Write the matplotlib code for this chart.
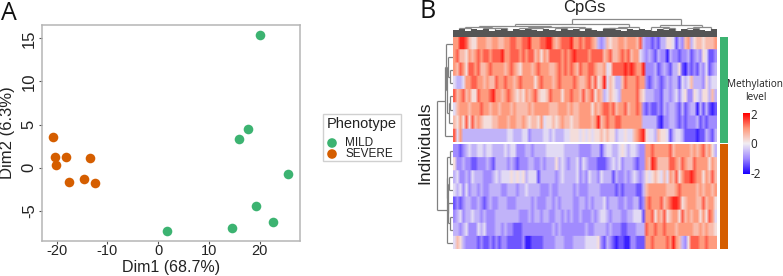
import numpy as np
import matplotlib
matplotlib.use('Agg')
import matplotlib.pyplot as plt
from matplotlib.colors import LinearSegmentedColormap
from matplotlib.patches import Rectangle

plt.rcParams['axes.unicode_minus'] = False

W, H = 783, 276

# panel A
mild_x = [20.0, 17.6, 15.8, 25.6, 19.2, 22.6, 14.5, 1.8]
mild_y = [15.4, 4.44, 3.28, -0.7, -4.48, -6.33, -7.0, -7.37]
severe_x = [-20.8, -20.3, -18.2, -13.4, -20.1, -17.6, -14.6, -12.4]
severe_y = [3.6, 1.2, 1.24, 1.16, 0.3, -1.6, -1.27, -1.74]
x_ticks = [-20, -10, 0, 10, 20]
y_ticks = [-5, 0, 5, 10, 15]

# panel B, one digit per column, 0 = -2 ... 9 = +2
mild_rows = [
    "77998655 77766776 67788778 89777889 97678889 77878876 32365667 76777683 22121335 54132673 56656667",
    "78665767 87887888 97788878 78867576 88887878 98888788 88678667 87867743 23213220 32212231 23254112",
    "76875887 86678777 76787657 77678777 66787878 76877887 66745888 89898779 22231232 13351021 21324123",
    "43347788 77676687 78776787 77757877 76787777 87667868 56946533 68777877 21232123 23314346 33325344",
    "86786755 87778977 67876565 76786556 87775778 77686785 76346543 77777865 33322133 23424522 54355363",
    "46777677 78776776 77767666 67677777 66677767 66777757 67887867 78677872 12112132 33213123 30313101",
    "65758586 76555667 77677667 65665745 56567665 66777767 96787788 77777773 33331022 33212122 23121222",
    "84733333 33333333 33443334 42333344 34333445 55454545 56565534 45446789 54436554 13443111 10113213",
]
severe_rows = [
    "22123433 44344333 34344222 33233334 44444333 33222233 31344334 54344322 77877777 86777776 76786753",
    "52232211 22232133 33232122 23322323 33534323 34243222 11123434 23332122 76986666 88768766 87777576",
    "34223243 33222343 44454545 34441333 33234333 34232433 24333132 23234323 54565464 76857889 87757686",
    "43424233 23223333 22333233 43333222 32233333 23222333 32222212 12222113 67777776 66787777 76767767",
    "12123322 32123223 33222333 33232223 32323333 22332323 33423332 23223312 78777867 89985677 76686775",
    "23423343 32322233 33333322 23233233 22332323 22322232 34432333 22334441 77857685 67758676 77575874",
    "33234222 43422233 23221112 22222222 23232222 22223223 33323222 11222333 87787787 77677777 66767665",
    "46532222 12112121 22111112 00111122 22333222 33334444 52132101 10022111 77877778 79763258 88778777",
]
# individuals tree: (height, left, right), ints are rows
mild_tree = (8, (7, 0, (6, (5, 1, (3, 2, 3)), (4.5, (3, 4, 5), 6))), 7)
severe_tree = (6.5, (6, (3, 0, 1), (5.5, (4, 2, 3), (5, 4, (3.5, 5, 6)))), 7)
# CpG tree: ints are groups of 4 columns
cpg_tree = (18, (13, (11.5, (10, (9, 0, 1), (9.5, 2, (9, 3, 4))),
                      (10.5, (9, 5, (9, 6, 7)), (10, (9, 8, 9), (9.5, 10, 11)))),
                 (10.5, (9.5, (9, 12, 13), 14), 15)),
            (12, (10, 16, (9.5, 17, 18)), (10.5, (9.5, 19, 20), 21)))
band_top = [7, 8, 6, 8, 7, 8, 6, 7, 8, 6, 8, 7, 8, 7, 6, 8, 7, 6, 8, 7, 8, 6,
            8, 7, 6, 8, 8, 7, 6, 8, 7, 8, 7, 6, 8, 7, 8, 6, 8, 7, 8, 7, 6, 8]

GREEN = '#3CB371'
ORANGE = '#D55E00'
TEXT = '#222222'
FONT = 'Liberation Sans'
SOFT = 'Open Sans'

cmap = LinearSegmentedColormap.from_list(
    'meth', [(0, '#1a00ff'), (.25, '#a08aff'), (.5, '#f2eef2'), (.75, '#ff9a7c'), (1, '#ff0000')])


def axpx(x0, y0, x1, y1, **kw):
    # axes from pixel box, y counted from the top
    return fig.add_axes([x0 / W, 1 - y1 / H, (x1 - x0) / W, (y1 - y0) / H], **kw)


def to_values(rows):
    m = np.array([[int(c) for c in r.replace(' ', '')] for r in rows], dtype=float)
    # rows kept crisp, columns get blended by the bilinear draw
    return np.repeat((m - 4.5) * 4 / 9 * 0.88, 15, axis=0)


def tree_segments(node, segs, scale=1.0, off=0.0):
    # returns position and height of a node, collects [(p0,h0),(p1,h1)]
    if not isinstance(node, tuple):
        return node * scale + off, 0
    h, a, b = node
    pa, ha = tree_segments(a, segs, scale, off)
    pb, hb = tree_segments(b, segs, scale, off)
    segs.append(((pa, ha), (pa, h)))
    segs.append(((pb, hb), (pb, h)))
    segs.append(((pa, h), (pb, h)))
    return (pa + pb) / 2, h


fig = plt.figure(figsize=(W / 100, H / 100), dpi=100)

# A
ax = axpx(41.7, 25.3, 300, 240.7)
ax.scatter(mild_x, mild_y, s=48, c=GREEN, lw=0, label='MILD', zorder=3)
ax.scatter(severe_x, severe_y, s=48, c=ORANGE, lw=0, label='SEVERE', zorder=3)
ax.set_xlim(-22.95, 27.9)
ax.set_ylim(-8.44, 16.5)
ax.set_xticks(x_ticks)
ax.set_yticks(y_ticks)
for s in ax.spines.values():
    s.set_color('#b5b5b5')
    s.set_linewidth(1.1)
ax.tick_params(length=2, width=.8, color='#555555', labelcolor=TEXT)
ax.tick_params(axis='x', labelsize=10.5, pad=0.5)
ax.tick_params(axis='y', labelsize=12, pad=1.5)
for t in ax.get_xticklabels():
    t.set_family(FONT)
for t in ax.get_yticklabels():
    t.set_family(FONT)
    t.set_rotation(90)
    t.set_va('center')
fig.text(171 / W, 1 - 267.5 / H, 'Dim1 (68.7%)', ha='center', va='center', family=FONT, fontsize=11.5, color=TEXT)
fig.text(7.5 / W, 1 - 133 / H, 'Dim2 (6.3%)', ha='center', va='center', rotation=90, family=FONT, fontsize=12, color=TEXT)
fig.text(1 / W, 1 - 13.5 / H, 'A', ha='left', va='center', family=SOFT, fontsize=18, color='#111111')
fig.text(420 / W, 1 - 12 / H, 'B', ha='left', va='center', family=SOFT, fontsize=18, color='#111111')

# legend box
lg = axpx(322, 113, 401.5, 160.5)
lg.set_xlim(322, 401.5)
lg.set_ylim(160.5, 113)
lg.axis('off')
lg.add_patch(Rectangle((322.5, 113.5), 78.5, 47, fc='white', ec='#d0d0d0', lw=1, clip_on=False))
lg.text(327, 124, 'Phenotype', family=FONT, fontsize=10.5, va='center', color=TEXT)
lg.scatter([332, 332], [143, 154], s=48, c=[GREEN, ORANGE], lw=0, zorder=3)
lg.text(345, 143, 'MILD', family=FONT, fontsize=8.5, va='center', color=TEXT)
lg.text(345, 154, 'SEVERE', family=FONT, fontsize=8.5, va='center', color=TEXT)

# B heatmaps
hm1 = axpx(453, 37, 717, 142.5)
hm2 = axpx(453, 144, 717, 249)
hm1.imshow(to_values(mild_rows), aspect='auto', cmap=cmap, vmin=-2, vmax=2, interpolation='bilinear')
hm2.imshow(to_values(severe_rows), aspect='auto', cmap=cmap, vmin=-2, vmax=2, interpolation='bilinear')
hm1.axis('off')
hm2.axis('off')

# annotation bars
bar1 = axpx(719.5, 37, 728, 142.5)
bar1.set_facecolor(GREEN)
bar2 = axpx(719.5, 144, 728, 249)
bar2.set_facecolor(ORANGE)
for b in (bar1, bar2):
    b.set_xticks([])
    b.set_yticks([])
    for s in b.spines.values():
        s.set_visible(False)

# row dendrogram, height is pixels left of the heatmap
dr = axpx(435, 37, 453, 249)
dr.axis('off')
dr.set_xlim(18, 0)
dr.set_ylim(212, 0)
row_h = 13.2
segs1, segs2 = [], []
p1, h1 = tree_segments(mild_tree, segs1, row_h, row_h / 2)
p2, h2 = tree_segments(severe_tree, segs2, row_h, 107 + row_h / 2)
for (a, b) in segs1 + segs2 + [((p1, h1), (p1, 16)), ((p2, h2), (p2, 16)), ((p1, 16), (p2, 16))]:
    dr.plot([a[1], b[1]], [a[0], b[0]], color='#808080', lw=.9, solid_capstyle='butt')

# column dendrogram, height is pixels over the heatmap
dc = axpx(453, 18, 717, 37)
dc.axis('off')
dc.set_xlim(0, 88)
dc.set_ylim(0, 19)
segs = []
p, h = tree_segments(cpg_tree, segs, 4, 2)
for (a, b) in segs:
    dc.plot([a[0], b[0]], [a[1], b[1]], color='#8a8a8a', lw=.9, solid_capstyle='butt')
dc.bar(np.arange(len(band_top)) * 2 + 1, band_top, width=2, color='#555555', lw=0, zorder=3)

fig.text(584.5 / W, 1 - 7.5 / H, 'CpGs', ha='center', va='center', family=FONT, fontsize=12, color=TEXT)
fig.text(425 / W, 1 - 143 / H, 'Individuals', ha='center', va='center', rotation=90, family=FONT, fontsize=12.5, color=TEXT)

# colour key
cb = axpx(742.5, 113, 749, 174)
cb.imshow(np.linspace(2, -2, 100)[:, None], aspect='auto', cmap=cmap, vmin=-2, vmax=2)
cb.axis('off')
fig.text(755.5 / W, 1 - 84 / H, 'Methylation', ha='center', va='center', family=SOFT, fontsize=7.2, color=TEXT)
fig.text(755.5 / W, 1 - 97 / H, 'level', ha='center', va='center', family=SOFT, fontsize=7.2, color=TEXT)
for lab, ypx in zip(['2', '0', '-2'], [115, 144, 174]):
    fig.text(750.5 / W, 1 - ypx / H, lab, ha='left', va='center', family=SOFT, fontsize=8.5, color=TEXT)

fig.savefig('out.png', dpi=100)
